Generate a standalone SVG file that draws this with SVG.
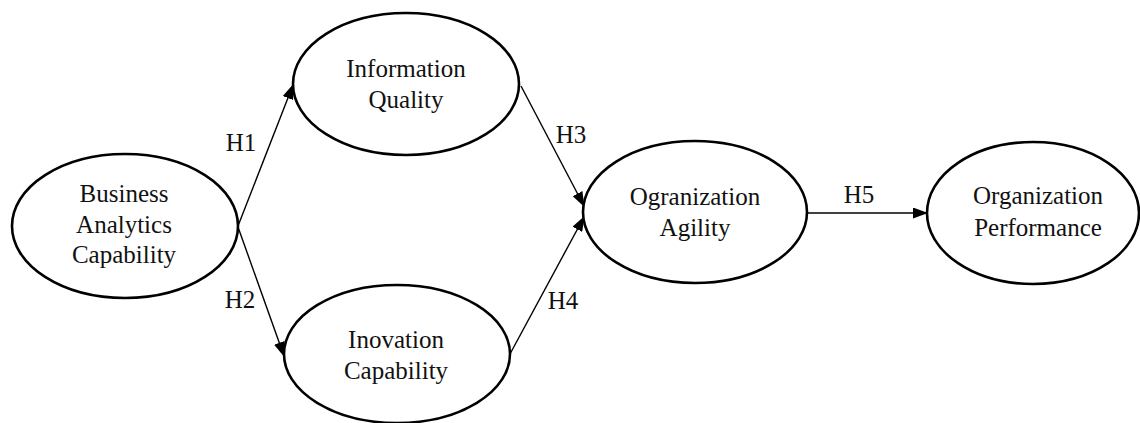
<svg xmlns="http://www.w3.org/2000/svg" width="1140" height="423" viewBox="0 0 1140 423">
  <defs>
    <marker id="arrow" viewBox="0 0 15 11" refX="14" refY="5.5" markerWidth="15" markerHeight="11" markerUnits="userSpaceOnUse" orient="auto">
      <path d="M0,0 L15,5.5 L0,11 Z" fill="#000"/>
    </marker>
    <style>
      .node ellipse { fill: #fff; stroke: #000; stroke-width: 2.6; }
      .node text, .label { font-family: "Liberation Serif", "Times New Roman", serif; font-size: 25px; fill: #111; text-anchor: middle; }
      .edge { stroke: #000; stroke-width: 1.4; fill: none; marker-end: url(#arrow); }
    </style>
  </defs>
  <rect width="1140" height="423" fill="#fff"/>

  <g id="connectors">
    <line class="edge" x1="238" y1="226" x2="293" y2="85"/>
    <line class="edge" x1="238" y1="227" x2="284" y2="356"/>
    <line class="edge" x1="521" y1="86" x2="584" y2="206"/>
    <line class="edge" x1="510" y1="354" x2="584" y2="217"/>
    <line class="edge" x1="807" y1="213" x2="927" y2="213"/>
    <text class="label" x="241" y="151">H1</text>
    <text class="label" x="240" y="308">H2</text>
    <text class="label" x="571" y="143">H3</text>
    <text class="label" x="563" y="309">H4</text>
    <text class="label" x="859" y="203">H5</text>
  </g>

  <g id="business-analytics-capability" class="node">
    <ellipse cx="125" cy="226" rx="113" ry="72"/>
    <text x="124" y="202">Business</text>
    <text x="124" y="233">Analytics</text>
    <text x="124" y="263">Capability</text>
  </g>

  <g id="information-quality" class="node">
    <ellipse cx="406" cy="84" rx="113" ry="71"/>
    <text x="406" y="77">Information</text>
    <text x="406" y="108">Quality</text>
  </g>

  <g id="inovation-capability" class="node">
    <ellipse cx="397" cy="354" rx="113" ry="69"/>
    <text x="396" y="348">Inovation</text>
    <text x="396" y="379">Capability</text>
  </g>

  <g id="ogranization-agility" class="node">
    <ellipse cx="695" cy="212" rx="112" ry="71"/>
    <text x="695" y="205">Ogranization</text>
    <text x="695" y="236">Agility</text>
  </g>

  <g id="organization-performance" class="node">
    <ellipse cx="1033" cy="213" rx="106" ry="71"/>
    <text x="1038" y="204">Organization</text>
    <text x="1038" y="236">Performance</text>
  </g>
</svg>
